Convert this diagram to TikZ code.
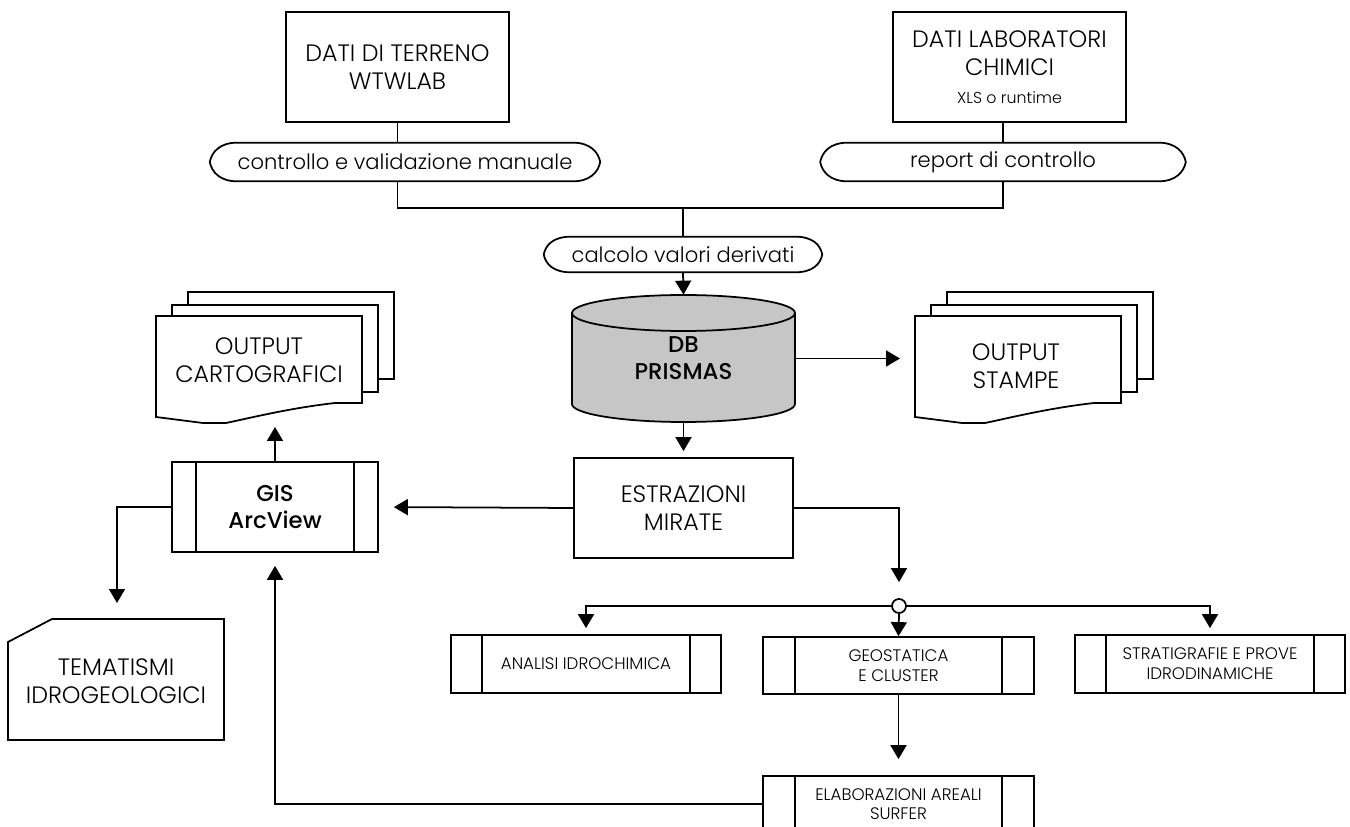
\documentclass[tikz,border=0pt]{standalone}
\usepackage{fontspec}
\setmainfont{Poppins}[UprightFont={* Light}, BoldFont={* Medium}]
\usetikzlibrary{arrows.meta}
\definecolor{dbgray}{RGB}{198,198,198}
\tikzset{
	every node/.style = {align = center, inner sep = 0pt},
	line/.style = {line width = 1pt},
	arr/.style = {line width = 1pt, -{Triangle[width = 0.32cm, length = 0.28cm]}},
	bigtxt/.style = {font = \fontsize{13.5}{16}\selectfont},
	ovaltxt/.style = {font = \fontsize{12}{14}\selectfont},
	smalltxt/.style = {font = \fontsize{9.5}{11.5}\selectfont},
	plainbox/.style = {draw, line width = 1pt, bigtxt},
	subbox/.style = {draw, line width = 1pt, fill = white, smalltxt}
}
\begin{document}
\begin{tikzpicture} [x = 0.02cm, y = -0.02cm]
	\useasboundingbox (0,0) rectangle (1350,827);
	\clip (0,0) rectangle (1350,827);
	% sources
	\node [plainbox, minimum width = 4.46cm, minimum height = 2.2cm] (terreno) at (397.5,67) {DATI DI TERRENO\\WTWLAB};
	\node [plainbox, minimum width = 4.66cm, minimum height = 2.2cm] (lab) at (1009.5,67) {DATI LABORATORI\\CHIMICI\\{\fontsize{9}{11}\selectfont XLS o runtime}};
	\node [ovaltxt, minimum width = 6.3cm, minimum height = 0.76cm] (ctrl) at (405,162) {controllo e validazione manuale};
	\node [ovaltxt, minimum width = 6.2cm, minimum height = 0.76cm] (rep) at (1003,162) {report di controllo};
	\node [ovaltxt, minimum width = 4.4cm, minimum height = 0.7cm] (calc) at (683,254.5) {calcolo valori derivati};
	\foreach \n in {ctrl,rep,calc}
		\draw [line] (\n.north west) -- (\n.north east)
			.. controls +(0.35cm,0cm) and +(-0.04cm,0.2cm) .. ([xshift = 0.55cm]\n.east)
			.. controls +(-0.04cm,-0.2cm) and +(0.35cm,0cm) .. (\n.south east) -- (\n.south west)
			.. controls +(-0.35cm,0cm) and +(0.04cm,-0.2cm) .. ([xshift = -0.55cm]\n.west)
			.. controls +(0.04cm,0.2cm) and +(-0.35cm,0cm) .. (\n.north west) -- cycle;
	% database
	\draw [line, fill = dbgray] (572,313) -- (572,404) arc (180:360:2.23cm and 0.36cm) -- (795,313) arc (0:180:2.23cm and 0.36cm) -- cycle;
	\draw [line] (572,313) arc (180:360:2.23cm and 0.36cm);
	\node [font = \fontsize{13}{15.5}\selectfont\bfseries, minimum width = 4.46cm, minimum height = 2.54cm] (db) at (683.5,358.5) {DB\\PRISMAS};
	\node [plainbox, minimum width = 4.38cm, minimum height = 2cm] (estr) at (683.5,508) {ESTRAZIONI\\MIRATE};
	% printed outputs
	\foreach \ox in {0,759}
		\foreach \dx/\dy in {32/-24,16/-11,0/0}
			\draw [line, fill = white, shift = {(\ox+\dx,\dy)}] (156,316) -- (362,316) -- (362,403) -- (335,403)
				.. controls (290,408) and (250,418) .. (226,423) -- (203,423) -- (156,417) -- cycle;
	\node [bigtxt] (carto) at (259,360) {OUTPUT\\CARTOGRAFICI};
	\node [bigtxt] (stampe) at (1016,366) {OUTPUT\\STAMPE};
	\coordinate (cartoin) at (275,413);
	\coordinate (stampein) at (915,358.5);
	% processes
	\node [subbox, font = \fontsize{13}{15.5}\selectfont\bfseries, minimum width = 4.12cm, minimum height = 1.8cm] (gis) at (275,507) {GIS\\ArcView};
	\node [subbox, minimum width = 5.4cm, minimum height = 1.16cm] (ana) at (586,664) {ANALISI IDROCHIMICA};
	\node [subbox, minimum width = 5.42cm, minimum height = 1.14cm] (geo) at (898.5,665.5) {GEOSTATICA\\E CLUSTER};
	\node [subbox, minimum width = 5.4cm, minimum height = 1.16cm] (strat) at (1210,664) {STRATIGRAFIE E PROVE\\IDRODINAMICHE};
	\node [subbox, font = \fontsize{9.5}{10.5}\selectfont, minimum width = 5.42cm, minimum height = 1.12cm] (elab) at (898.5,804) {ELABORAZIONI AREALI\\SURFER};
	\foreach \n/\b in {gis/0.5cm,ana/0.64cm,geo/0.66cm,strat/0.64cm,elab/0.66cm} {
		\draw [line] ([xshift = \b]\n.north west) -- ([xshift = \b]\n.south west);
		\draw [line] ([xshift = -\b]\n.north east) -- ([xshift = -\b]\n.south east);
	}
	% themes
	\draw [line] (52,619) -- (224,619) -- (224,740) -- (8,740) -- (8,642) -- cycle;
	\node [bigtxt] (tema) at (116,681) {TEMATISMI\\IDROGEOLOGICI};
	\coordinate (temain) at (117,619);
	\node [draw, circle, line width = 1pt, fill = white, minimum size = 0.28cm] (hub) at (899,606) {};
	% connectors
	\coordinate (join) at (683,208);
	\draw [line] (rep.north) -- (rep.north |- lab.south);
	\draw [line] (terreno.south) -- (terreno.south |- ctrl.north);
	\draw [line] (terreno.south |- ctrl.south) |- (join);
	\draw [line] (rep.south) |- (join);
	\draw [line] (join) -- (calc.north);
	\draw [arr] (calc.south) -- (db.north);
	\draw [arr, shorten >= 0.12cm] (db.south) -- (estr.north);
	\draw [arr, shorten >= 0.3cm] (db.east) -- (stampein);
	\draw [arr, shorten >= 0.28cm] (gis.north) -- (cartoin);
	\draw [arr, shorten >= 0.3cm] (estr.west) -- (gis.east);
	\draw [arr, shorten >= 0.32cm] (gis.west) -| (temain);
	\draw [arr, shorten >= 0.32cm] (estr.east) -| (hub.north);
	\draw [arr, shorten >= 0.12cm] (hub.west) -| (ana.north);
	\draw [arr, shorten >= 0.12cm] (hub.east) -| (strat.north);
	\draw [arr] (hub.south) -- (geo.north);
	\draw [arr, shorten >= 0.32cm] (geo.south) -- (elab.north);
	\draw [arr, shorten >= 0.26cm] (elab.west) -| (gis.south);
\end{tikzpicture}
\end{document}
